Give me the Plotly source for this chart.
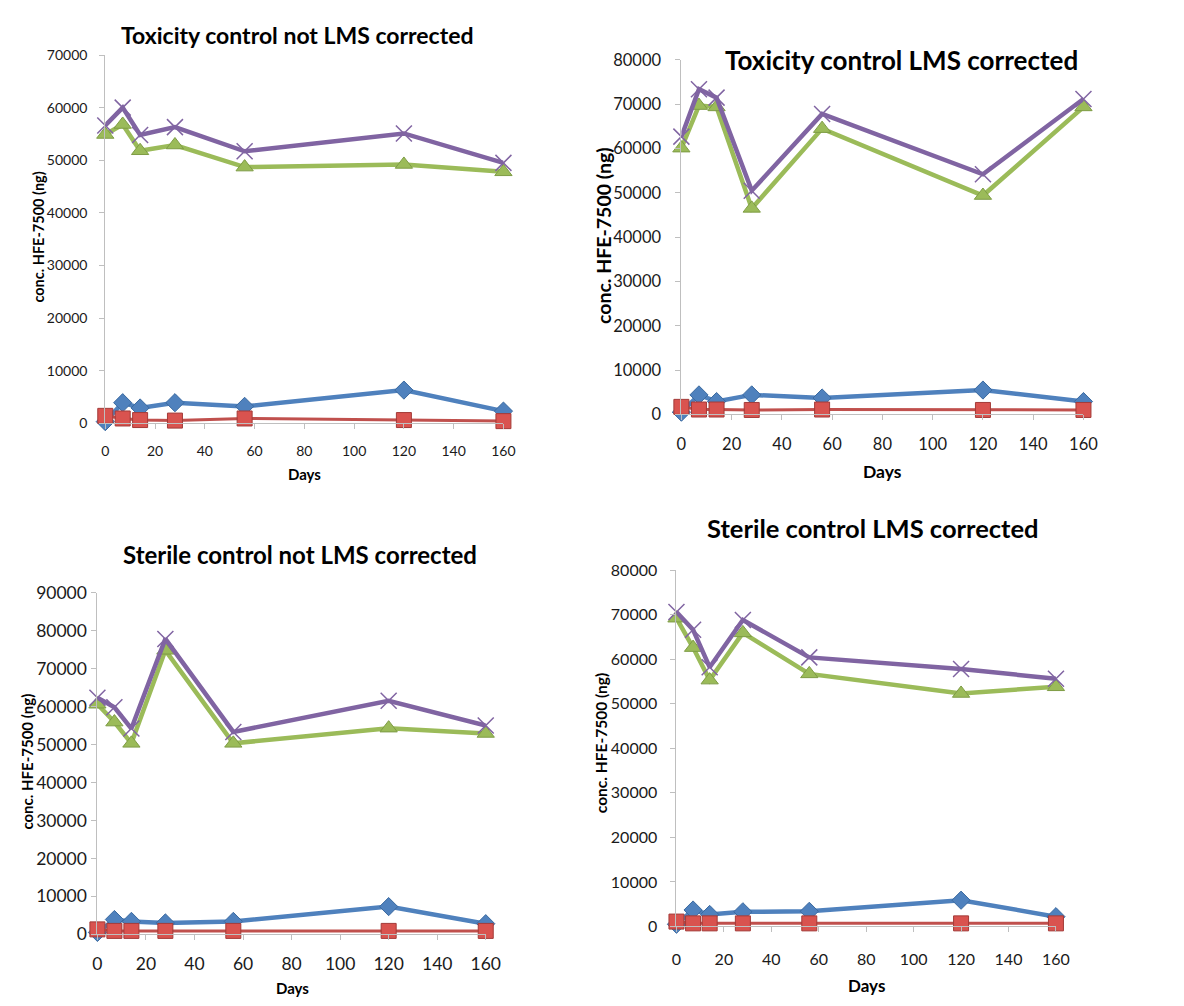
import plotly.graph_objects as go

days = [0, 7, 14, 28, 56, 120, 160]

titles = [
    "Toxicity control not LMS corrected",
    "Toxicity control LMS corrected",
    "Sterile control not LMS corrected",
    "Sterile control LMS corrected",
]

# Panel 1: Toxicity control not LMS corrected
tox_not_blue = [300, 3900, 2900, 3900, 3200, 6300, 2300]
tox_not_red = [1400, 900, 600, 500, 900, 600, 400]
tox_not_green = [54900, 56800, 51800, 52900, 48700, 49200, 47800]
tox_not_purple = [56600, 60000, 54800, 56300, 51700, 55100, 49500]

# Panel 2: Toxicity control LMS corrected
tox_lms_blue = [500, 4400, 2900, 4400, 3700, 5500, 2900]
tox_lms_red = [1700, 1100, 1100, 1000, 1100, 1000, 1000]
tox_lms_green = [60100, 69700, 69400, 46500, 64500, 49400, 69400]
tox_lms_purple = [62700, 73400, 71500, 50500, 67800, 54200, 71200]

# Panel 3: Sterile control not LMS corrected
ster_not_blue = [500, 3900, 3400, 3000, 3400, 7300, 2800]
ster_not_red = [1300, 900, 900, 900, 900, 900, 900]
ster_not_green = [60600, 55900, 50300, 74800, 50300, 54300, 52900]
ster_not_purple = [62300, 59800, 54200, 77800, 53300, 61500, 55000]

# Panel 4: Sterile control LMS corrected
ster_lms_blue = [500, 3700, 2700, 3300, 3400, 5900, 2200]
ster_lms_red = [1100, 700, 700, 700, 700, 700, 700]
ster_lms_green = [69200, 62600, 55300, 65900, 56700, 52300, 53800]
ster_lms_purple = [70600, 66600, 58200, 68800, 60400, 57800, 55600]

y_max = [70000, 80000, 90000, 80000]
x_ticks = [0, 20, 40, 60, 80, 100, 120, 140, 160]

panels = [
    (tox_not_blue, tox_not_red, tox_not_green, tox_not_purple),
    (tox_lms_blue, tox_lms_red, tox_lms_green, tox_lms_purple),
    (ster_not_blue, ster_not_red, ster_not_green, ster_not_purple),
    (ster_lms_blue, ster_lms_red, ster_lms_green, ster_lms_purple),
]

W, H = 1184, 1006


def fx(px):
    return px / W


def fy(py):
    return 1 - py / H


FONT = "Lato, 'Open Sans', sans-serif"
BLUE, RED, GREEN, PURPLE = "#4F81BD", "#C0504D", "#9BBB59", "#8064A2"

# layout geometry in page pixels: (left, right, top, bottom)
boxes = [(102, 507, 45, 421), (688, 1097, 50, 412), (94, 489, 594, 943), (683, 1069, 571, 935)]
tick_sizes = [14, 16.5, 17.5, 16]
y_standoff = [9, 11, 1, 10]
x_standoff = [10, 10, 9, 13]
title_sizes = [23, 26, 24, 25.5]
title_pos = [(297, 25), (912, 50), (300, 555), (883, 528)]
ytitle_pos = [(34, 231, 14.5), (608, 229, 19.5), (22, 767, 15), (607, 748, 15.5)]
xtitle_pos = [(305, 473, 15), (893, 470, 17.5), (292, 998, 15), (876, 995, 17)]

fig = go.Figure()
layout = dict(
    width=W, height=H, margin=dict(l=0, r=0, t=0, b=0),
    paper_bgcolor="white", plot_bgcolor="white", showlegend=False,
    font=dict(family=FONT, color="#111111"),
)
annotations = []

for i, (b, r, g, p) in enumerate(panels):
    n = "" if i == 0 else str(i + 1)
    xa, ya = "x" + n, "y" + n
    specs = [
        (b, BLUE, dict(symbol="diamond", size=14, color=BLUE, line=dict(color="#3B6AA0", width=1)), 4.5),
        (r, RED, dict(symbol="square", size=15, color="#D9534F", line=dict(color="#A33B38", width=1)), 3),
        (g, GREEN, dict(symbol="triangle-up", size=15, color=GREEN, line=dict(color="#7E9C45", width=1)), 4.5),
        (p, PURPLE, dict(symbol="x-thin", size=16, color=PURPLE, line=dict(color=PURPLE, width=1.5)), 4.5),
    ]
    for vals, col, mk, lw in specs:
        fig.add_trace(go.Scatter(
            x=days, y=vals, mode="lines+markers", xaxis=xa, yaxis=ya,
            line=dict(color=col, width=lw), marker=mk, cliponaxis=False,
        ))
    L, R, T, B = boxes[i]
    ts = tick_sizes[i]
    layout["xaxis" + n] = dict(
        domain=[fx(L), fx(R)], anchor=ya, range=[0, 160], tickvals=x_ticks,
        showline=True, linecolor="#BFBFBF", linewidth=1, ticks="outside",
        ticklen=5, tickcolor="#BFBFBF", showgrid=False, zeroline=False,
        tickfont=dict(size=ts, family=FONT, color="#1a1a1a"), ticklabelstandoff=x_standoff[i],
    )
    layout["yaxis" + n] = dict(
        domain=[fy(B), fy(T)], anchor=xa, range=[0, y_max[i]], dtick=10000,
        tickformat="d",
        showline=True, linecolor="#BFBFBF", linewidth=1, ticks="outside",
        ticklen=5, tickcolor="#BFBFBF", showgrid=False, zeroline=False,
        tickfont=dict(size=ts, family=FONT, color="#1a1a1a"), ticklabelstandoff=y_standoff[i],
    )
    tx, ty = title_pos[i]
    annotations.append(dict(text="<b>" + titles[i] + "</b>", x=fx(tx), y=fy(ty),
                            xref="paper", yref="paper", showarrow=False,
                            xanchor="center", yanchor="middle",
                            font=dict(size=title_sizes[i], family=FONT, color="black")))
    yx, yy, ys = ytitle_pos[i]
    annotations.append(dict(text="<b>conc. HFE-7500 (ng)</b>", x=fx(yx), y=fy(yy),
                            xref="paper", yref="paper", showarrow=False, textangle=-90,
                            xanchor="center", yanchor="middle",
                            font=dict(size=ys, family=FONT, color="black")))
    dx, dy, ds = xtitle_pos[i]
    annotations.append(dict(text="<b>Days</b>", x=fx(dx), y=fy(dy),
                            xref="paper", yref="paper", showarrow=False,
                            xanchor="center", yanchor="middle",
                            font=dict(size=ds, family=FONT, color="black")))

layout["annotations"] = annotations
fig.update_layout(**layout)
fig.write_html(
    "out.html",
    config={"displayModeBar": False},
    post_script=(
        "document.body.style.margin='0';"
        "document.body.style.overflow='hidden';"
        "document.documentElement.style.overflow='hidden';"
    ),
)
